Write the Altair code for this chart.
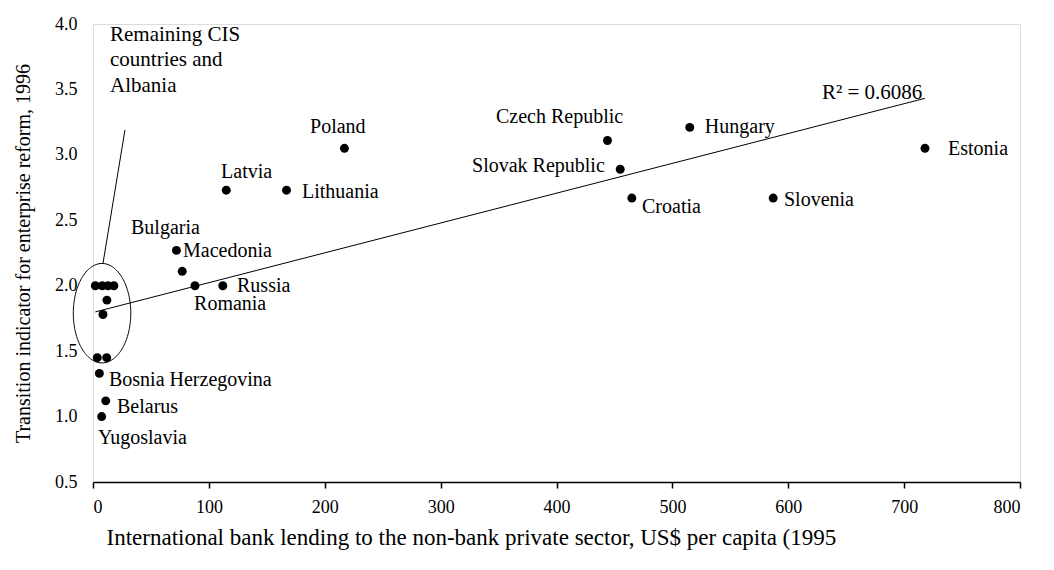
import altair as alt
import numpy as np
import pandas as pd

# Named countries
countries = ["Estonia", "Hungary", "Czech Republic", "Slovak Republic", "Croatia",
             "Slovenia", "Poland", "Latvia", "Lithuania", "Bulgaria", "Macedonia",
             "Romania", "Russia", "Bosnia Herzegovina", "Belarus", "Yugoslavia"]
lending = [718, 515, 444, 455, 465, 587, 217, 115, 167, 72, 77, 88, 112, 5.5, 11, 7.5]
indicator = [3.05, 3.21, 3.11, 2.89, 2.67, 2.67, 3.05, 2.73, 2.73, 2.27, 2.11,
             2.0, 2.0, 1.33, 1.12, 1.0]

# Remaining CIS countries and Albania (cluster inside the ellipse)
cis_lending = [2, 8, 13, 18, 12, 8.6, 3.7, 11.8]
cis_indicator = [2.0, 2.0, 2.0, 2.0, 1.89, 1.78, 1.45, 1.45]

# Country label texts and anchor positions (data units)
label_text = ["Estonia", "Hungary", "Czech Republic", "Slovak Republic", "Croatia",
              "Slovenia", "Poland", "Latvia", "Lithuania", "Bulgaria", "Macedonia",
              "Romania", "Russia", "Bosnia Herzegovina", "Belarus", "Yugoslavia"]
label_x = [737.9, 528.0, 347.8, 327.1, 473.8, 596.3, 187.3, 110.5, 180.4, 32.8, 77.7,
           87.2, 124.3, 13.8, 20.7, 4.3]
label_y = [3.044, 3.212, 3.289, 2.914, 2.601, 2.655, 3.212, 2.869, 2.716, 2.441, 2.265,
           1.860, 2.0, 1.280, 1.073, 0.837]

# Annotation texts
note_text = ["Remaining CIS", "countries and", "Albania", "R² = 0.6086"]
note_x = [14.7, 14.7, 14.7, 629.1]
note_y = [3.915, 3.724, 3.526, 3.472]

# Ellipse around the cluster and its leader line
ellipse_center = [7.8, 1.79]
ellipse_radius = [24.8, 0.38]
leader_x = [8.6, 27.6]
leader_y = [2.17, 3.19]

FONT = "Liberation Serif"

pts = pd.DataFrame({
    "x": lending + cis_lending,
    "y": indicator + cis_indicator,
})
labels = pd.DataFrame({"t": label_text, "x": label_x, "y": label_y})
notes = pd.DataFrame({"t": note_text, "x": note_x, "y": note_y})
t = np.linspace(0, 2 * np.pi, 181)
ell = pd.DataFrame({
    "x": ellipse_center[0] + ellipse_radius[0] * np.cos(t),
    "y": ellipse_center[1] + ellipse_radius[1] * np.sin(t),
    "o": np.arange(len(t)),
})
lead = pd.DataFrame({"x": leader_x, "y": leader_y})

xscale = alt.Scale(domain=[0, 800], nice=False)
yscale = alt.Scale(domain=[0.5, 4.0], nice=False)

xaxis = alt.Axis(values=list(range(0, 801, 100)), grid=False, domainColor="black",
                 domainWidth=1.5, tickColor="black", tickWidth=1.5, tickSize=6,
                 labelPadding=10, labelFont=FONT, labelFontSize=18, labelColor="black",
                 title="International bank lending to the non-bank private sector, US$ per capita (1995",
                 titleFont=FONT, titleFontSize=23, titleFontWeight="normal", titleColor="black",
                 titleAlign="left", titleX=13, titleY=55, titleBaseline="middle")
yaxis = alt.Axis(values=[0.5, 1.0, 1.5, 2.0, 2.5, 3.0, 3.5, 4.0], format=".1f", grid=False,
                 domain=False, ticks=False, labelPadding=16, labelFont=FONT,
                 labelFontSize=18, labelColor="black",
                 title="Transition indicator for enterprise reform, 1996",
                 titleFont=FONT, titleFontSize=20, titleFontWeight="normal", titleColor="black",
                 titleAngle=-90, titleAlign="center", titleBaseline="middle",
                 titleX=-70, titleY=229)

points = alt.Chart(pts).mark_circle(size=80, color="black", opacity=1).encode(
    x=alt.X("x:Q", scale=xscale, axis=xaxis),
    y=alt.Y("y:Q", scale=yscale, axis=yaxis),
)

trend = alt.Chart(pts).mark_line(color="black", strokeWidth=1).transform_regression(
    "x", "y"
).encode(x=alt.X("x:Q", scale=xscale), y=alt.Y("y:Q", scale=yscale))

ellipse = alt.Chart(ell).mark_line(color="black", strokeWidth=1).encode(
    x=alt.X("x:Q", scale=xscale), y=alt.Y("y:Q", scale=yscale), order="o:Q"
)

leader = alt.Chart(lead).mark_line(color="black", strokeWidth=1).encode(
    x=alt.X("x:Q", scale=xscale), y=alt.Y("y:Q", scale=yscale)
)

texts = alt.Chart(labels).mark_text(align="left", baseline="middle", font=FONT,
                                     fontSize=20, color="black").encode(
    x=alt.X("x:Q", scale=xscale), y=alt.Y("y:Q", scale=yscale), text="t:N"
)

note_texts = alt.Chart(notes).mark_text(align="left", baseline="middle", font=FONT,
                                         fontSize=21, color="black").encode(
    x=alt.X("x:Q", scale=xscale), y=alt.Y("y:Q", scale=yscale), text="t:N"
)

chart = alt.layer(trend, ellipse, leader, points, texts, note_texts).properties(
    width=927, height=458,
    autosize=alt.AutoSizeParams(type="none"),
    padding={"left": 85, "top": 16, "right": 20, "bottom": 74},
).configure_view(strokeWidth=0).configure(background="white")

chart.save("out.html", embed_options={"renderer": "svg", "actions": False})
